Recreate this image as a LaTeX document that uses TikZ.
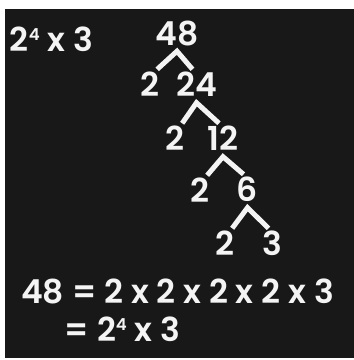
\documentclass[tikz,border=0pt]{standalone}
\usepackage{fontspec}
\setmainfont{Poppins}[BoldFont={Poppins SemiBold}]
\usepackage{tikz}
\usetikzlibrary{positioning}
\definecolor{pizarra}{HTML}{181818}
\definecolor{tiza}{HTML}{F4F4F4}
\newcommand{\pot}[1]{\raisebox{11.5pt}{\fontsize{16.5}{17}\selectfont #1}}

\begin{document}
\begin{tikzpicture}[x=1pt, y=-1pt,
  num/.style={text=tiza, inner sep=0pt, text height=23pt, text depth=0pt, font=\fontsize{33}{36}\selectfont\bfseries},
  rama/.style={draw=tiza, line width=5pt}]
\useasboundingbox (0,0) rectangle (354,360);
\fill[white] (0,0) rectangle (354,360);
\fill[pizarra] (5,9) rectangle (354,358);
% resumen arriba
\node[num] (res) at (51.5,40) {2\pot{4} x 3};
% arbol de factores
\node[num] (n48) at (177,33.5) {48};
\node[num] (a2) at (149.5,85) {2};
\node[num] (n24) at (196.5,85) {24};
\node[num] (b2) at (174.5,139) {2};
\node[num] (n12) at (223,139) {12};
\node[num] (c2) at (199.5,191) {2};
\node[num] (n6) at (247.5,190) {6};
\node[num] (d2) at (224.5,244) {2};
\node[num] (n3) at (272.5,244) {3};
\draw[rama] ([shift={(-2pt,4pt)}]a2.north east) -- ([yshift=-6pt]n48.south) -- ([shift={(-4pt,4pt)}]n24.north);
\draw[rama] ([shift={(-2pt,4pt)}]b2.north east) -- ([yshift=-6pt]n24.south) -- ([shift={(-4pt,4pt)}]n12.north);
\draw[rama] ([shift={(-2pt,4pt)}]c2.north east) -- ([yshift=-6pt]n12.south) -- ([shift={(-4pt,4pt)}]n6.north);
\draw[rama] ([shift={(-2pt,4pt)}]d2.north east) -- ([yshift=-6pt]n6.south) -- ([shift={(-4pt,4pt)}]n3.north);
% resultado
\node[num] (eq1) at (177.5,291.5) {48 = 2 x 2 x 2 x 2 x 3};
\node[num] (eq2) at (122.5,330) {= 2\pot{4} x 3};
\end{tikzpicture}
\end{document}
